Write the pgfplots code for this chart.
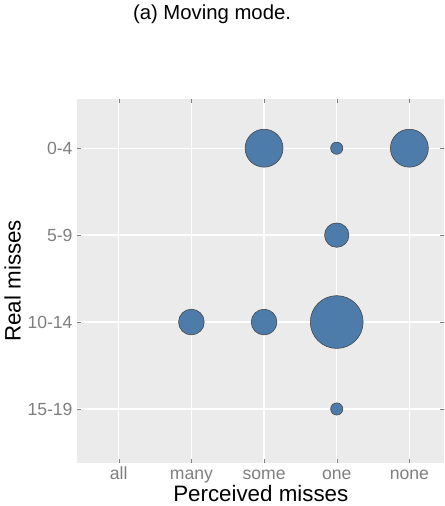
\documentclass[border=0pt]{standalone}
\usepackage{pgfplots}
\pgfplotsset{compat=1.18}
\usepackage{fontspec}
\setmainfont{Liberation Sans}
\definecolor{bg}{HTML}{EBEBEB}
\definecolor{bub}{HTML}{4E7CAA}
\definecolor{tk}{HTML}{7F7F7F}
\begin{document}
\begin{tikzpicture}
\begin{axis}[
  scale only axis, width=271pt, height=269pt,
  xmin=-0.57, xmax=4.48, ymin=-0.57, ymax=3.62, y dir=reverse,
  axis background/.style={fill=bg}, axis line style={draw=none},
  xtick={0,1,2,3,4}, xticklabels={all,many,some,one,none},
  ytick={0,1,2,3}, yticklabels={0-4,5-9,10-14,15-19},
  major tick length=3pt, tick style={tk},
  tick label style={tk, font=\fontsize{13}{13}\selectfont},
  xticklabel style={text height=9pt, text depth=3pt},
  grid=major, grid style={white, line width=1pt},
  xlabel={Perceived misses}, ylabel={Real misses},
  label style={font=\fontsize{16.5}{16.5}\selectfont},
  xlabel style={yshift=6pt}, ylabel style={yshift=-2pt},
  title={(a) Moving mode.}, title style={font=\fontsize{15}{15}\selectfont, yshift=46pt, xshift=-36pt},
]
\addplot[scatter, only marks, mark=*, draw=black!75, fill=bub,
  scatter/use mapped color={draw=black!75, fill=bub},
  visualization depends on={\thisrow{r} \as \rr},
  scatter/@pre marker code/.append style={/tikz/mark size=\rr pt}]
  table[x=x, y=y] {
x y r
2 0 14
3 0 4.5
4 0 14
3 1 9
1 2 9.5
2 2 9.5
3 2 19.5
3 3 4.5
};
\end{axis}
\end{tikzpicture}
\end{document}
